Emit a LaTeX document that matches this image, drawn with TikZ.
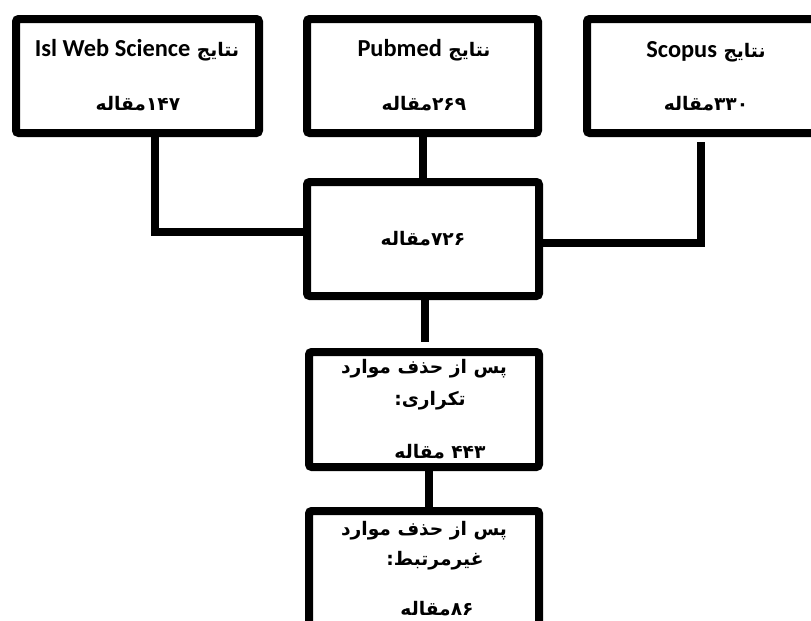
\documentclass[tikz,border=0pt]{standalone}
\usepackage{fontspec}
\setmainfont{Carlito}
\newfontfamily\fa[Script=Arabic]{DejaVu Sans}
\newfontfamily\lat{Carlito}
\TeXXeTstate=1
\newcommand\latin[1]{{\lat\bfseries\fontsize{18.3}{21}\selectfont #1}}
\newcommand\fw[1]{\hbox{\beginR #1\endR}}
\begin{document}
\begin{tikzpicture}[x=0.75pt,y=-0.75pt,
  box/.style={draw=black,line width=6pt,rounded corners=2pt,fill=white,inner sep=0pt},
  conn/.style={draw=black,line width=6pt},
  txt/.style={anchor=base,inner sep=0pt,font=\fa\bfseries\fontsize{14}{17}\selectfont}]
\useasboundingbox (0,0) rectangle (811,621);
\clip (0,0) rectangle (811,621);
% boxes
\node[box,minimum width=182.25pt,minimum height=85.5pt] (b1) at (137.5,76) {};
\node[box,minimum width=173.25pt,minimum height=85.5pt] (b2) at (422.5,76) {};
\node[box,minimum width=178.5pt,minimum height=85.5pt] (b3) at (706,76) {};
\node[box,minimum width=174pt,minimum height=85.5pt] (mid) at (423,239) {};
\node[box,minimum width=172.5pt,minimum height=86.25pt] (b4) at (424,409.5) {};
\node[box,minimum width=172.5pt,minimum height=86.25pt] (b5) at (424,568.5) {};
% connectors
\coordinate (cl) at (155,232);
\draw[conn] (b1.south -| cl) -- (cl) -- (mid.west |- cl);
\coordinate (crt) at (701,142);
\coordinate (cr) at (701,243);
\draw[conn] (crt) -- (cr) -- (mid.east |- cr);
\draw[conn] (b2.south) -- (b2.south |- mid.north);
\coordinate (c4) at (425,342);
\draw[conn] (mid.south -| c4) -- (c4);
\coordinate (c5) at (429,507);
\draw[conn] (b4.south -| c5) -- (b5.north -| c5);
% texts
\node[txt] (t1a) at (137,56) {\hbox{\latin{Isl Web Science}} \fw{نتایج}};
\node[txt] (t1b) at (138,110) {\fw{مقاله}\hbox{۱۴۷}};
\node[txt] (t2a) at (424,56) {\hbox{\latin{Pubmed}} \fw{نتایج}};
\node[txt] (t2b) at (424,110) {\fw{مقاله}\hbox{۲۶۹}};
\node[txt] (t3a) at (706,57) {\hbox{\latin{Scopus}} \fw{نتایج}};
\node[txt] (t3b) at (706,110) {\fw{مقاله}\hbox{۳۳۰}};
\node[txt] (tm) at (423,245) {\fw{مقاله}\hbox{۷۲۶}};
\node[txt] (t4a) at (424,373) {\beginR پس از حذف موارد\endR};
\node[txt] (t4b) at (430,405) {\beginR تکراری:\endR};
\node[txt] (t4c) at (440,458) {\fw{مقاله} \hbox{۴۴۳}};
\node[txt] (t5a) at (424,535) {\beginR پس از حذف موارد\endR};
\node[txt] (t5b) at (435,565) {\beginR غیرمرتبط:\endR};
\node[txt] (t5c) at (437,615) {\fw{مقاله}\hbox{۸۶}};
\end{tikzpicture}
\end{document}
